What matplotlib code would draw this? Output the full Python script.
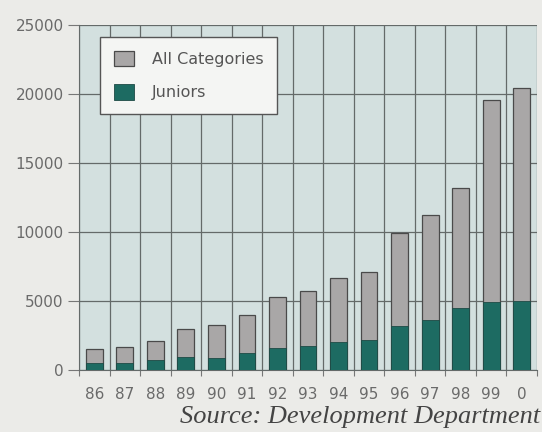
import numpy as np
import matplotlib.pyplot as plt

# Data
years = ["86", "87", "88", "89", "90", "91", "92", "93", "94", "95", "96", "97", "98", "99", "0"]
all_categories = [1500, 1700, 2100, 3000, 3250, 4000, 5300, 5700, 6700, 7100, 9900, 11200, 13200, 19600, 20400]
juniors = [500, 500, 700, 950, 900, 1250, 1600, 1750, 2000, 2200, 3200, 3600, 4500, 4900, 5000]

x = np.arange(len(years))

fig = plt.figure(figsize=(5.42, 4.32), dpi=100, facecolor="#ebebe8")
ax = fig.add_axes([0.1458, 0.1435, 0.845, 0.7986])
ax.set_facecolor("#d3e0df")

# grey bar is the total, teal bar drawn on top from zero
ax.bar(x, all_categories, width=0.55, color="#a9a7a7", edgecolor="#4a4a4a", linewidth=0.9,
       label="All Categories", zorder=3)
ax.bar(x, juniors, width=0.55, color="#1d6b62", edgecolor="#1d4a45", linewidth=0.6,
       label="Juniors", zorder=4)

ax.set_xlim(-0.46, len(years) - 0.53)
ax.set_ylim(0, 25000)
ax.set_yticks([0, 5000, 10000, 15000, 20000, 25000])
ax.set_xticks(x)
ax.set_xticklabels(years)
ax.set_xticks(np.arange(-0.5, len(years) - 0.5 + 0.01, 1.0), minor=True)

ax.grid(axis="y", color="#646a69", linewidth=0.9, zorder=1)
ax.grid(axis="x", which="minor", color="#646a69", linewidth=0.9, zorder=1)

ax.tick_params(axis="y", length=8, width=0.8, color="#777", labelsize=11, labelcolor="#6a6a6a", pad=3)
ax.tick_params(axis="x", which="major", length=0, labelsize=11, labelcolor="#6a6a6a", pad=12)
ax.tick_params(axis="x", which="minor", length=4, width=0.8, color="#777")

for side in ["top", "right"]:
    ax.spines[side].set_visible(False)
ax.spines["left"].set_color("#646a69")
ax.spines["bottom"].set_color("#646a69")

leg = ax.legend(loc="upper left", bbox_to_anchor=(0.046, 0.965), fontsize=11.5, frameon=True,
                fancybox=False, edgecolor="#555", facecolor="#f4f5f3", framealpha=1,
                handlelength=1.3, handleheight=1.1, borderpad=0.85, labelspacing=1.1,
                handletextpad=1.1, borderaxespad=0)
for t in leg.get_texts():
    t.set_color("#555")
leg.get_frame().set_linewidth(1.0)

fig.text(0.997, 0.035, "Source: Development Department", ha="right", va="center",
         fontsize=19, family="Liberation Serif", style="italic", color="#444")

fig.savefig("out.png", dpi=100, facecolor=fig.get_facecolor())
